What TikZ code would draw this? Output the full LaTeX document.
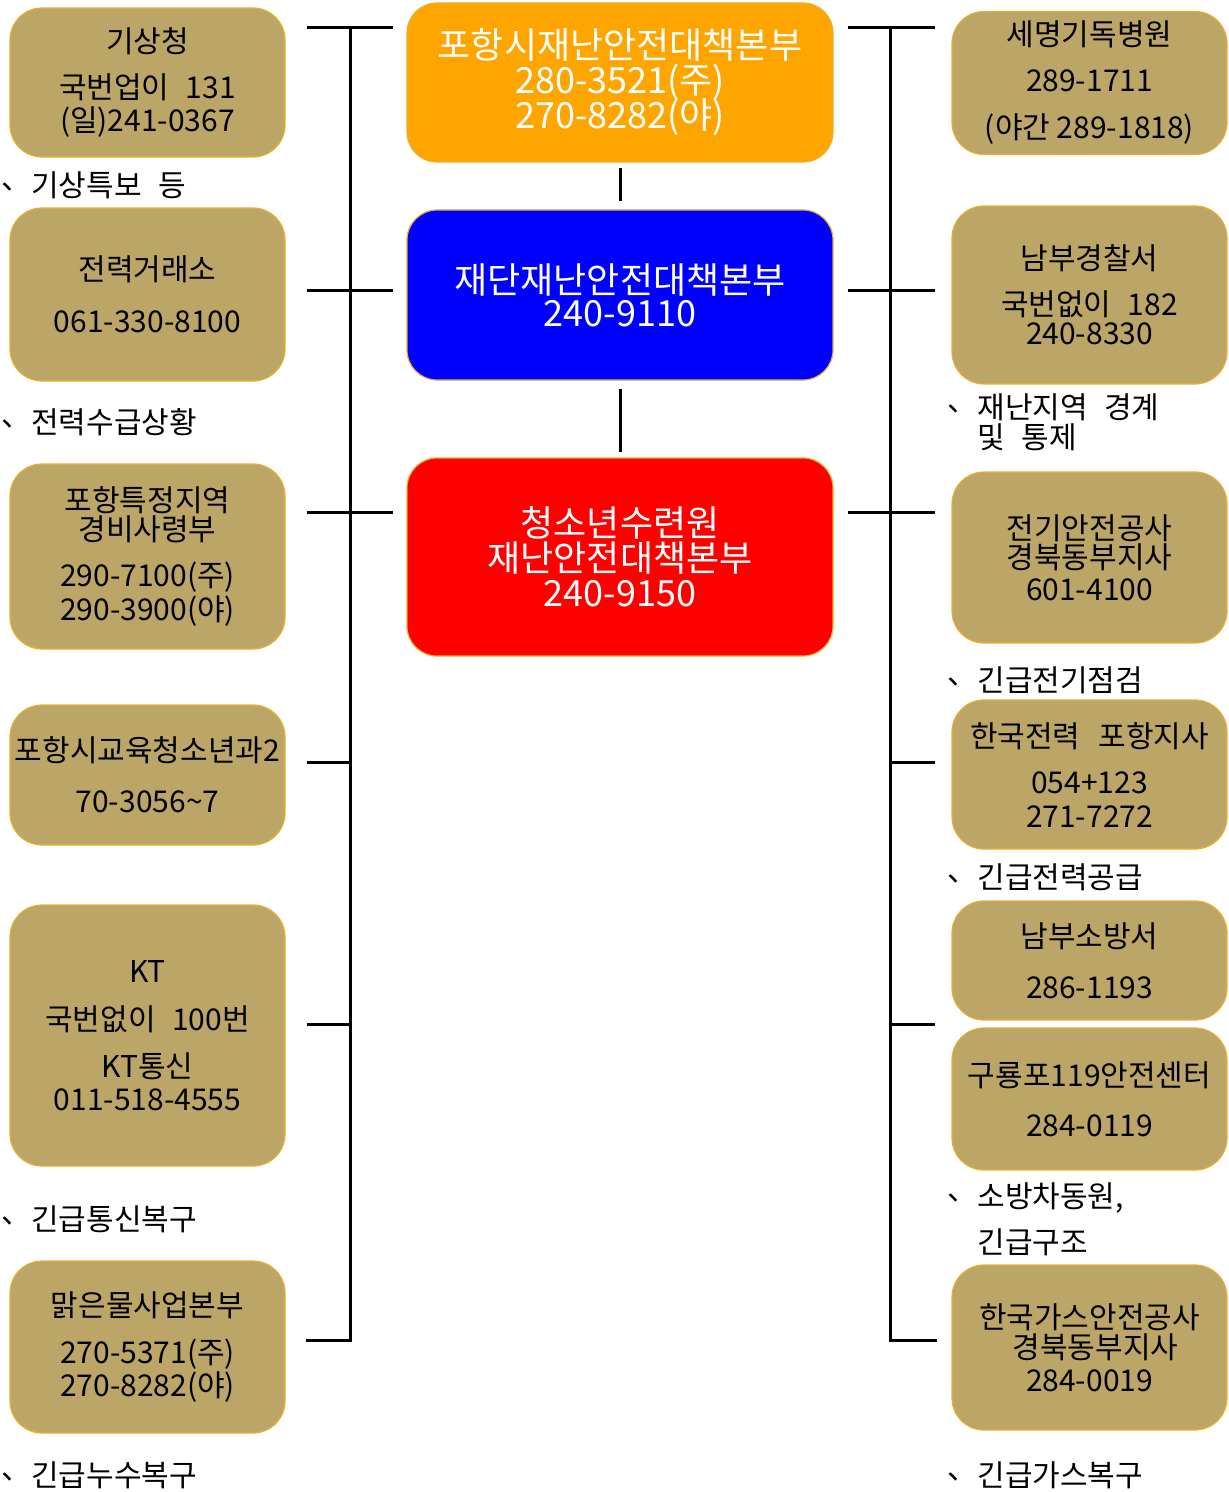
\documentclass[tikz,border=0pt]{standalone}
\usepackage{fontspec}
\setmainfont{Noto Sans CJK KR}
\definecolor{tanfill}{RGB}{187,166,104}
\definecolor{goldline}{RGB}{232,176,48}
\definecolor{hqorange}{RGB}{255,165,0}
\definecolor{hqblue}{RGB}{0,0,255}
\definecolor{hqred}{RGB}{255,0,0}
\newcommand\tanfont{\fontsize{15}{16.5}\selectfont}
\newcommand\hqfont{\fontsize{18}{17.5}\selectfont\lineskiplimit=-20pt\lineskip=0pt}
\newcommand\wsp{\hspace{0.55em}}
\newcommand\dotmark{\raisebox{0.22em}{、}}
\begin{document}
\begin{tikzpicture}[x=0.5pt,y=-0.5pt,
  tanbox/.style={rectangle, rounded corners=16pt, fill=tanfill, draw=goldline, line width=0.6pt,
    minimum width=137.5pt, align=center, font=\tanfont, inner sep=0pt, text=black},
  hqbox/.style={rectangle, rounded corners=15pt, draw=goldline, line width=0.6pt,
    minimum width=213pt, align=center, font=\hqfont, inner sep=0pt, text=white},
  note/.style={anchor=west, font=\tanfont, align=left, inner sep=0pt},
  bus/.style={line width=1.5pt, draw=black, line cap=rect},
  link/.style={line width=1.5pt, draw=black}]
\useasboundingbox (0,0) rectangle (1228,1492);

% ---------- left column ----------
\node[tanbox, minimum height=74.5pt] (gisang) at (147.5,82.5)
  {기상청\\[6.5pt]국번업이\wsp 131\\[0pt](일)241-0367};
\node[tanbox, minimum height=86.5pt] (power) at (147.5,294.5)
  {전력거래소\\[9.5pt]061-330-8100};
\node[tanbox, minimum height=92.5pt] (army) at (147.5,556.5)
  {포항특정지역\\[-2pt]경비사령부\\[6.5pt]290-7100(주)\\[0.5pt]290-3900(야)};
\node[tanbox, minimum height=70pt] (edu) at (147.5,775)
  {포항시교육청소년과2\\[9pt]70-3056\textasciitilde 7};
\node[tanbox, minimum height=130.5pt] (kt) at (147.5,1035.5)
  {KT\\[7.5pt]국번없이\wsp 100번\\[7pt]KT통신\\[0pt]011-518-4555};
\node[tanbox, minimum height=86pt] (water) at (147.5,1347)
  {맑은물사업본부\\[7pt]270-5371(주)\\[0pt]270-8282(야)};

\node[note] (n1) at (1,185) {\dotmark 기상특보\wsp 등};
\node[note] (n2) at (1,422) {\dotmark 전력수급상황};
\node[note] (n3) at (1,1219) {\dotmark 긴급통신복구};
\node[note] (n4) at (1,1475) {\dotmark 긴급누수복구};

% ---------- centre column ----------
\node[hqbox, fill=hqorange, minimum height=79.5pt] (hq1) at (620,82.5)
  {포항시재난안전대책본부\\280-3521(주)\\270-8282(야)};
\node[hqbox, fill=hqblue, minimum height=85pt] (hq2) at (620,295)
  {재단재난안전대책본부\\[-1pt]240-9110};
\node[hqbox, fill=hqred, minimum height=99pt] (hq3) at (620,557)
  {청소년수련원\\재난안전대책본부\\240-9150};

\draw[link, shorten <=2.5pt, shorten >=4pt] (hq1) -- (hq2);
\draw[link, shorten <=4pt, shorten >=2.5pt] (hq2) -- (hq3);

% ---------- right column ----------
\node[tanbox, minimum height=71.5pt] (hosp) at (1089.5,83)
  {세명기독병원\\[6.5pt]289-1711\\[7pt](야간 289-1818)};
\node[tanbox, minimum height=89pt] (police) at (1089.5,295)
  {남부경찰서\\[6.5pt]국번없이\wsp 182\\[-2pt]240-8330};
\node[tanbox, minimum height=85.5pt] (elec) at (1089.5,557.5)
  {전기안전공사\\[-2pt]경북동부지사\\[-0.5pt]601-4100};
\node[tanbox, minimum height=74.5pt] (kepco) at (1089.5,774.5)
  {한국전력\hspace{0.6em}포항지사\\[6.5pt]054+123\\[0.5pt]271-7272};
\node[tanbox, minimum height=59.5pt] (fire) at (1089.5,960.5)
  {남부소방서\\[9pt]286-1193};
\node[tanbox, minimum height=71pt] (guryong) at (1089.5,1099)
  {구룡포119안전센터\\[8.5pt]284-0119};
\node[tanbox, minimum height=82.5pt] (gas) at (1089.5,1347.5)
  {한국가스안전공사\\[-1.5pt]\hspace*{6pt}경북동부지사\\[0pt]284-0019};

\node[note, font=\fontsize{15}{15}\selectfont] (m1) at (947,422)
  {\dotmark 재난지역\wsp 경계\\\hphantom{、}및\wsp 통제};
\node[note] (m2) at (947,680) {\dotmark 긴급전기점검};
\node[note] (m3) at (947,877) {\dotmark 긴급전력공급};
\node[note] (m4) at (947,1219) {\dotmark 소방차동원,\\[6.5pt]\hphantom{、}긴급구조};
\node[note] (m5) at (947,1475) {\dotmark 긴급가스복구};

% ---------- left bus ----------
\coordinate (LT) at (350,28);
\coordinate (LB) at (350,1340);
\coordinate (la1) at (307,28);   \coordinate (lb1) at (393,28);
\coordinate (la2) at (307,291);  \coordinate (lb2) at (393,291);
\coordinate (la3) at (307,512);  \coordinate (lb3) at (393,512);
\coordinate (la4) at (307,762);  \coordinate (lb4) at (350,762);
\coordinate (la5) at (307,1024); \coordinate (lb5) at (350,1024);
\coordinate (la6) at (307,1340);
\draw[bus] (LT) -- (LB);
\draw[link] (la1) -- (lb1);
\draw[link] (la2) -- (lb2);
\draw[link] (la3) -- (lb3);
\draw[link] (la4) -- (lb4);
\draw[link] (la5) -- (lb5);
\draw[bus] (la6) -- (LB);

% ---------- right bus ----------
\coordinate (RT) at (890,28);
\coordinate (RB) at (890,1340);
\coordinate (ra1) at (848,28);   \coordinate (rb1) at (935,28);
\coordinate (ra2) at (848,291);  \coordinate (rb2) at (935,291);
\coordinate (ra3) at (848,512);  \coordinate (rb3) at (935,512);
\coordinate (ra4) at (890,762);  \coordinate (rb4) at (935,762);
\coordinate (ra5) at (890,1024); \coordinate (rb5) at (935,1024);
\coordinate (rb6) at (935,1340);
\draw[bus] (RT) -- (RB);
\draw[link] (ra1) -- (rb1);
\draw[link] (ra2) -- (rb2);
\draw[link] (ra3) -- (rb3);
\draw[link] (ra4) -- (rb4);
\draw[link] (ra5) -- (rb5);
\draw[bus] (RB) -- (rb6);
\end{tikzpicture}
\end{document}
